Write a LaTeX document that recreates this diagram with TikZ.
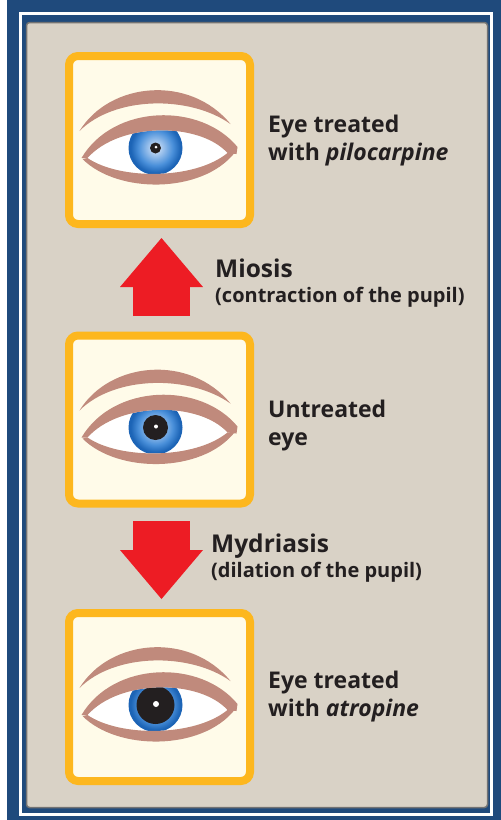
\documentclass[tikz,border=0pt]{standalone}
\usepackage{fontspec}
\setmainfont{Open Sans}
\usetikzlibrary{arrows.meta}

\definecolor{frameblue}{RGB}{31,74,124}
\definecolor{panelbeige}{RGB}{217,210,198}
\definecolor{boxorange}{RGB}{253,183,30}
\definecolor{boxcream}{RGB}{255,251,233}
\definecolor{lidbrown}{RGB}{192,138,124}
\definecolor{arrowred}{RGB}{237,28,36}
\definecolor{inkblack}{RGB}{35,31,32}
\definecolor{irispale}{RGB}{226,236,249}
\definecolor{irislight}{RGB}{165,199,238}
\definecolor{irismid}{RGB}{74,144,218}
\definecolor{irisdeep}{RGB}{28,100,182}

% iris gradient, 25bp is the rim
\pgfdeclareradialshading{iris}{\pgfpointorigin}{color(0bp)=(irispale); color(6bp)=(irislight); color(16bp)=(irismid); color(23bp)=(irisdeep); color(25bp)=(irisdeep); color(50bp)=(irisdeep)}

\tikzset{
  % eye with pupil radius / highlight radius
  pics/eye/.style args={#1/#2}{code={
    % brow
    \fill[lidbrown] (-80,-9) .. controls (-50,-58) and (30,-66) .. (71,-16)
      .. controls (30,-45) and (-45,-44) .. cycle;
    % white of the eye
    \fill[white] (-72,18) .. controls (-40,-18) and (40,-18) .. (68,13)
      .. controls (35,40) and (-40,40) .. cycle;
    \begin{scope}
      \clip (-72,18) .. controls (-40,-18) and (40,-18) .. (68,13)
        .. controls (35,40) and (-40,40) .. cycle;
      \shade[shading=iris] (-4,8) circle (27);
      \fill[inkblack] (-4,8) circle (#1);
      \fill[white] (-3.5,7) circle (#2);
    \end{scope}
    % lids
    \fill[lidbrown] (-78,18) .. controls (-46,-36) and (41,-38) .. (78,7)
      -- (77,14) -- (68,13) .. controls (40,-18) and (-40,-18) .. (-72,18) -- cycle;
    \fill[lidbrown] (-77,19) .. controls (-42,54) and (42,54) .. (75,13)
      -- (68,13) .. controls (35,40) and (-40,40) .. (-72,18) -- cycle;
  }}
}

\begin{document}
\begin{tikzpicture}[x=1pt, y=-1pt,
    eyebox/.style={draw=boxorange, fill=boxcream, line width=8pt, rounded corners=9pt,
      minimum width=181pt, minimum height=168pt, inner sep=0pt},
    eyetext/.style={anchor=base west, inner sep=0pt, align=left, text=inkblack,
      font=\fontsize{23}{28}\selectfont\bfseries},
    changetext/.style={anchor=base west, inner sep=0pt, text=inkblack,
      font=\fontsize{24.5}{28}\selectfont\bfseries},
    subtext/.style={anchor=base west, inner sep=0pt, text=inkblack,
      font=\fontsize{20}{24}\selectfont\bfseries},
    change/.style={arrowred, line width=57pt,
      -{Triangle[length=49pt, width=83pt, line width=0pt]}}]
  \useasboundingbox (0,0) rectangle (501,820);

  % frame and panel
  \fill[frameblue] (7,0) rectangle (501,820);
  \draw[white, line width=3pt] (20,13.5) rectangle (491.5,814);
  \fill[panelbeige, draw=black!55, line width=1.5pt, rounded corners=3pt]
    (26.5,22.5) rectangle (487.5,807.5);

  % boxes
  \node[eyebox] (pilo) at (159.5,140) {};
  \node[eyebox] (untr) at (159.5,419.5) {};
  \node[eyebox] (atro) at (159.5,697) {};
  \pic at (pilo) {eye=5.5/1.5};
  \pic at (untr) {eye=12.5/2};
  \pic at (atro) {eye=19/3};

  % arrows between the boxes
  \draw[change, shorten <=15.5pt, shorten >=10pt] ([xshift=2pt]untr.north) -- ([xshift=2pt]pilo.south);
  \draw[change, shorten <=13.5pt, shorten >=10pt] ([xshift=2pt]untr.south) -- ([xshift=2pt]atro.north);

  % texts (base is the last line)
  \node[eyetext] (piloText) at (268,160) {Eye treated\\with \textit{pilocarpine}};
  \node[eyetext] (untrText) at (268,445) {Untreated\\eye};
  \node[eyetext] (atroText) at (268,716) {Eye treated\\with \textit{atropine}};
  \node[changetext] (miosis) at (215,277) {Miosis};
  \node[subtext] (miosisSub) at (215,302) {(contraction of the pupil)};
  \node[changetext] (mydriasis) at (211,552) {Mydriasis};
  \node[subtext] (mydriasisSub) at (211,577) {(dilation of the pupil)};
\end{tikzpicture}
\end{document}
